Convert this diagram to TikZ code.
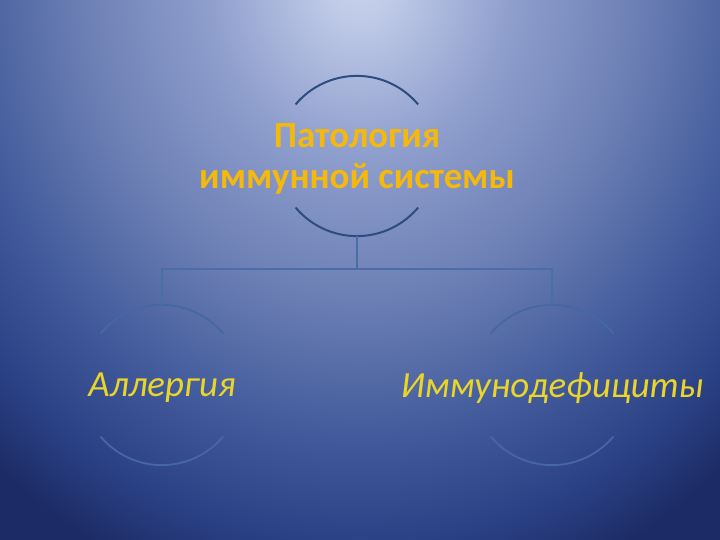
\documentclass[tikz,border=0pt]{standalone}
\usepackage{fontspec}
\setmainfont{Carlito}
\usepackage{tikz}
\usetikzlibrary{calc}
\definecolor{titlecol}{HTML}{F5B80C}
\definecolor{labelcol}{HTML}{EAD52A}
\definecolor{arccol}{HTML}{2E4C7E}
\definecolor{lowarccol}{HTML}{4568A2}
\definecolor{linkcol}{HTML}{4A6EA6}
\definecolor{bgdark}{HTML}{1C2B66}
\pgfdeclareradialshading{slidebg}{\pgfpoint{0bp}{0bp}}{%
  color(0bp)=(rgb,255:red,200;green,210;blue,236);
  color(1.5bp)=(rgb,255:red,192;green,203;blue,232);
  color(7bp)=(rgb,255:red,141;green,157;blue,204);
  color(12.5bp)=(rgb,255:red,108;green,127;blue,180);
  color(17.5bp)=(rgb,255:red,68;green,93;blue,157);
  color(22bp)=(rgb,255:red,43;green,65;blue,133);
  color(25bp)=(rgb,255:red,28;green,43;blue,102);
  color(50bp)=(rgb,255:red,28;green,43;blue,102)}
\tikzset{%
  myring/.style={circle, minimum size=160bp, inner sep=0pt},
  mytitle/.style={align=center, text=titlecol, font=\fontsize{37}{42}\selectfont\bfseries},
  mylabel/.style={text=labelcol, font=\fontsize{37}{42}\selectfont\itshape},
  toparc/.style={draw=arccol, line width=2bp},
  lowarc/.style={draw=lowarccol, line width=1.8bp},
  mylink/.style={draw=linkcol, line width=1.8bp}
}

\begin{document}
\begin{tikzpicture}[x=1bp, y=1bp]
  \useasboundingbox (0,0) rectangle (720,540);
  \clip (0,0) rectangle (720,540);
  \fill[bgdark] (0,0) rectangle (720,540);
  \shade[shading=slidebg] (360,560) ellipse [x radius=560, y radius=640];
  \node[myring] (pathoring) at (357,384) {};
  \node[myring] (allergyring) at (162,155) {};
  \node[myring, right=310bp] (immunoring) at (allergyring) {};
  \node[mytitle, yshift=-3bp] (patho) at (pathoring) {Патология\\иммунной системы};
  \node[mylabel, yshift=-3bp] (allergy) at (allergyring) {Аллергия};
  \node[mylabel, yshift=-3bp] (immuno) at (immunoring) {Иммунодефициты};
  \draw[toparc] (pathoring.140) arc[start angle=140, end angle=40, radius=80];
  \draw[toparc] (pathoring.220) arc[start angle=220, end angle=320, radius=80];
  \draw[lowarc] (allergyring.140) arc[start angle=140, end angle=40, radius=80];
  \draw[lowarc] (allergyring.220) arc[start angle=220, end angle=320, radius=80];
  \draw[lowarc] (immunoring.140) arc[start angle=140, end angle=40, radius=80];
  \draw[lowarc] (immunoring.220) arc[start angle=220, end angle=320, radius=80];
  \coordinate[below=33bp] (fork) at (pathoring.south);
  \draw[mylink] (pathoring.south) -- (fork);
  \draw[mylink] (fork) -| (allergyring.north);
  \draw[mylink] (fork) -| (immunoring.north);
\end{tikzpicture}
\end{document}
